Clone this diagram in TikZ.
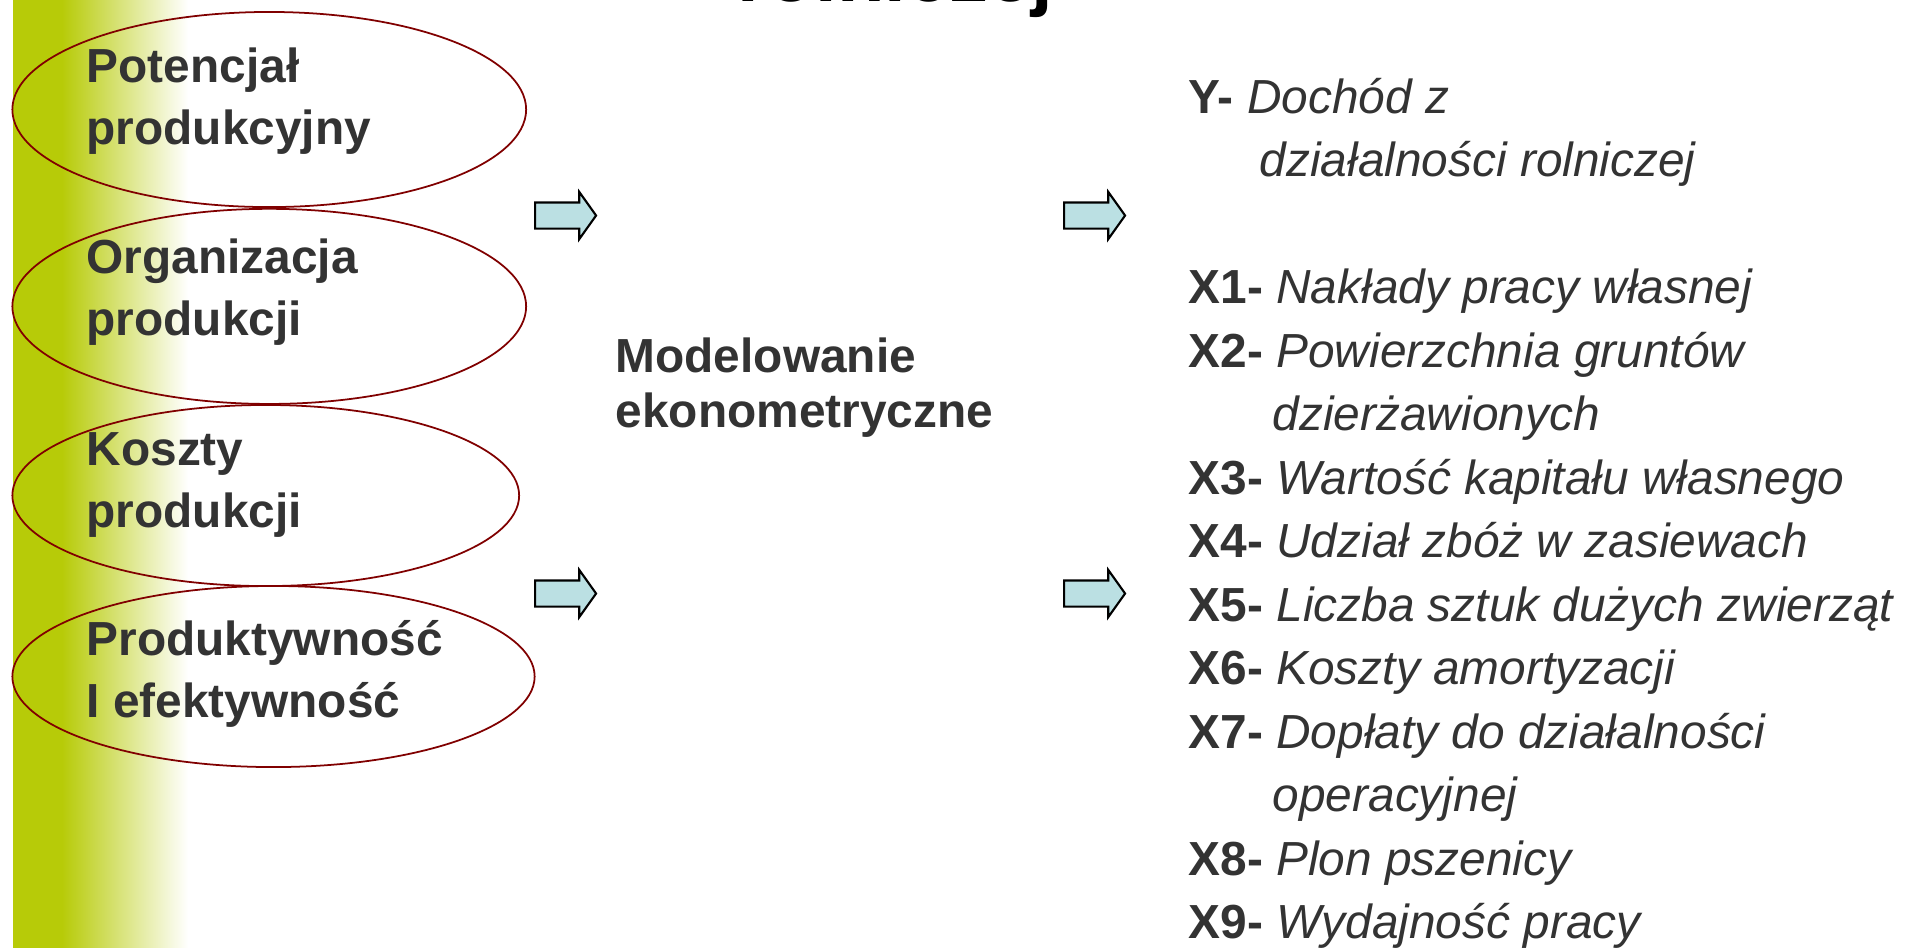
\documentclass[tikz,border=0pt]{standalone}
\usepackage{fontspec}
\setmainfont{Liberation Sans}
\usepackage{tikz}
\usetikzlibrary{positioning,shapes.geometric,shapes.arrows}
\definecolor{bargreen}{RGB}{183,203,8}
\definecolor{arrowblue}{RGB}{187,224,227}
\definecolor{ovalred}{RGB}{128,0,0}
\definecolor{txtgray}{RGB}{51,51,51}
\newcommand{\twoline}[2]{\begin{tabular}[t]{@{}l@{}}#1\\#2\end{tabular}}

\begin{document}
\begin{tikzpicture}[x=0.01cm,y=-0.01cm,
  oval/.style={ellipse,draw=ovalred,line width=0.5pt,inner sep=0pt},
  factor/.style={anchor=base west,inner sep=0pt,text=txtgray,font=\bfseries\fontsize{13.6}{17.8}\selectfont},
  blockarrow/.style={single arrow,draw=black,line width=0.6pt,fill=arrowblue,inner xsep=0pt,inner ysep=0.12cm,minimum height=0.61cm,single arrow head extend=0.105cm,single arrow tip angle=109,single arrow head indent=0pt,anchor=west},
  varline/.style={anchor=base west,inner sep=0pt,text=txtgray,font=\fontsize{13.6}{18}\selectfont}]
\useasboundingbox (0,0) rectangle (1905,947);
\clip (0,0) rectangle (1905,947);
% green band on the left
\fill[bargreen] (12.5,-5) rectangle (63,955);
\shade[left color=bargreen,right color=white] (62,-5) rectangle (188,955);
% cut title
\node[anchor=base west,inner sep=0pt,font=\bfseries\fontsize{22.1}{26}\selectfont] (title) at (737,1.5) {rolniczej};
% factor ovals
\node[oval,minimum width=5.135cm,minimum height=1.95cm] (e1) at (269.25,109.5) {};
\node[oval,minimum width=5.135cm,minimum height=1.95cm,below=0pt of e1] (e2) {};
\node[oval,minimum width=5.065cm,minimum height=1.81cm] (e3) at (265.75,495.5) {};
\node[oval,minimum width=5.22cm,minimum height=1.81cm] (e4) at (273.5,676.5) {};
\node[factor] (f1) at (86,82) {\twoline{Potencjał}{produkcyjny}};
\node[factor] (f2) at (86,273) {\twoline{Organizacja}{produkcji}};
\node[factor] (f3) at (86,465) {\twoline{Koszty}{produkcji}};
\node[factor] (f4) at (86,655) {\twoline{Produktywność}{I efektywność}};
% arrows and model
\node[blockarrow] (a1) at (534,215.5) {};
\node[blockarrow] (a2) at (534,593.5) {};
\node[anchor=base west,inner sep=0pt,text=txtgray,font=\bfseries\fontsize{13.6}{15.65}\selectfont] (model) at (615,372) {\twoline{Modelowanie}{ekonometryczne}};
\node[blockarrow] (a3) at (1063,215.5) {};
\node[blockarrow] (a4) at (1063,593.5) {};
% variables
\foreach \k/\xx/\nm/\txt in {
  0/1188/vy/{\textbf{Y-} \textit{Dochód z}},
  1/1259/vyb/{\textit{działalności rolniczej}},
  3/1188/vx1/{\textbf{X1-} \textit{Nakłady pracy własnej}},
  4/1188/vx2/{\textbf{X2-} \textit{Powierzchnia gruntów}},
  5/1272/vx2b/{\textit{dzierżawionych}},
  6/1188/vx3/{\textbf{X3-} \textit{Wartość kapitału własnego}},
  7/1188/vx4/{\textbf{X4-} \textit{Udział zbóż w zasiewach}},
  8/1188/vx5/{\textbf{X5-} \textit{Liczba sztuk dużych zwierząt}},
  9/1188/vx6/{\textbf{X6-} \textit{Koszty amortyzacji}},
  10/1188/vx7/{\textbf{X7-} \textit{Dopłaty do działalności}},
  11/1272/vx7b/{\textit{operacyjnej}},
  12/1188/vx8/{\textbf{X8-} \textit{Plon pszenicy}},
  13/1188/vx9/{\textbf{X9-} \textit{Wydajność pracy}}}
  \node[varline] (\nm) at (\xx,{113+63.5*\k}) {\txt};
\end{tikzpicture}
\end{document}
